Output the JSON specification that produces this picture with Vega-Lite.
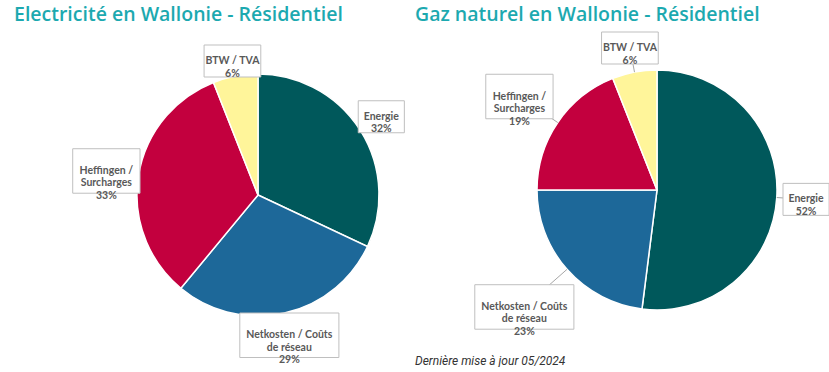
{
  "$schema": "https://vega.github.io/schema/vega-lite/v6.json",
  "padding": {"top": 4, "left": 0, "right": 0, "bottom": 0},
  "background": "white",
  "spacing": 0,
  "config": {"view": {"stroke": null}},
  "title": {"text": "Dernière mise à jour 05/2024", "orient": "bottom", "anchor": "start", "dx": 415, "font": "Roboto", "fontStyle": "italic", "fontWeight": "normal", "fontSize": 12, "color": "#333333", "offset": -10},
  "datasets": {
    "elec": [
      {"cat": "Energie", "value": 32, "order": 1},
      {"cat": "Netkosten / Coûts\nde réseau", "value": 29, "order": 2},
      {"cat": "Heffingen /\nSurcharges", "value": 33, "order": 3},
      {"cat": "BTW / TVA", "value": 6, "order": 4}
    ],
    "gaz": [
      {"cat": "Energie", "value": 52, "order": 1},
      {"cat": "Netkosten / Coûts\nde réseau", "value": 23, "order": 2},
      {"cat": "Heffingen /\nSurcharges", "value": 19, "order": 3},
      {"cat": "BTW / TVA", "value": 6, "order": 4}
    ]
  },
  "hconcat": [
    {
      "width": 414,
      "height": 310,
      "title": {"text": "Electricité en Wallonie - Résidentiel", "anchor": "start", "dx": 14, "font": "Open Sans", "fontSize": 19.5, "fontWeight": 600, "color": "#1CA9B0", "offset": 6},
      "data": {"name": "elec"},
      "transform": [
        {"window": [{"op": "sum", "field": "value", "as": "cum"}], "sort": [{"field": "order"}], "frame": [null, 0]},
        {"joinaggregate": [{"op": "sum", "field": "value", "as": "total"}]},
        {"calculate": "2*PI*(datum.cum - datum.value/2)/datum.total", "as": "ang"},
        {"calculate": "sin(datum.ang)", "as": "s"},
        {"calculate": "cos(datum.ang)", "as": "c"},
        {"calculate": "abs(datum.s)", "as": "sa"},
        {"calculate": "abs(datum.c)", "as": "ca"},
        {"calculate": "datum.cat + '\\n' + datum.value + '%'", "as": "txt"},
        {"calculate": "split(datum.txt, '\\n')", "as": "lines"},
        {"calculate": "(length(datum.lines)*12.5 + 7)/2", "as": "hh"},
        {"calculate": "(max(length(datum.lines[0]), length(datum.lines[1]), length(datum.lines) > 2 ? length(datum.lines[2]) : 0)*5.3 + 9)/2", "as": "hw"},
        {"calculate": "datum.hw*datum.sa + datum.hh*datum.ca", "as": "A"},
        {"calculate": "datum.A + sqrt(datum.A*datum.A - (datum.hw*datum.hw + datum.hh*datum.hh - 118*118))", "as": "t1"},
        {"calculate": "datum.t1*datum.sa < datum.hw ? (118 + datum.hh)/datum.ca : (datum.t1*datum.ca < datum.hh ? (118 + datum.hw)/datum.sa : datum.t1)", "as": "t"},
        {"calculate": "datum.t*datum.s", "as": "lx"},
        {"calculate": "-datum.t*datum.c", "as": "ly"},
        {"calculate": "datum.lx - datum.hw", "as": "bx1"},
        {"calculate": "datum.lx + datum.hw", "as": "bx2"},
        {"calculate": "datum.ly - datum.hh", "as": "by1"},
        {"calculate": "datum.ly + datum.hh", "as": "by2"},
        {"calculate": "121*datum.s", "as": "ex"},
        {"calculate": "-121*datum.c", "as": "ey"}
      ],
      "layer": [
        {
          "mark": {"type": "arc", "outerRadius": 121, "stroke": "white", "strokeWidth": 1.5},
          "encoding": {
            "x": {"datum": 0, "type": "quantitative", "scale": {"domain": [-258, 156], "nice": false, "zero": false}, "axis": null},
            "y": {"datum": 0, "type": "quantitative", "scale": {"domain": [-164, 146], "nice": false, "zero": false, "reverse": true}, "axis": null},
            "theta": {"field": "value", "type": "quantitative", "stack": true},
            "order": {"field": "order"},
            "color": {"field": "cat", "type": "nominal", "legend": null, "scale": {"domain": ["Energie", "Netkosten / Coûts\nde réseau", "Heffingen /\nSurcharges", "BTW / TVA"], "range": ["#00585B", "#1D6899", "#C3003E", "#FFF59A"]}}
          }
        },
        {
          "mark": {"type": "rule", "color": "#A6A6A6", "strokeWidth": 1},
          "encoding": {
            "x": {"field": "lx", "type": "quantitative"},
            "y": {"field": "ly", "type": "quantitative"},
            "x2": {"field": "ex"},
            "y2": {"field": "ey"}
          }
        },
        {
          "mark": {"type": "rect", "fill": "white", "stroke": "#BFBFBF", "strokeWidth": 1},
          "encoding": {
            "x": {"field": "bx1", "type": "quantitative"},
            "x2": {"field": "bx2"},
            "y": {"field": "by1", "type": "quantitative"},
            "y2": {"field": "by2"}
          }
        },
        {
          "mark": {"type": "text", "font": "Lato", "fontWeight": "bold", "fontSize": 10.5, "color": "#595959", "lineBreak": "\n", "lineHeight": 12.5, "align": "center", "baseline": "middle"},
          "encoding": {
            "x": {"field": "lx", "type": "quantitative"},
            "y": {"field": "ly", "type": "quantitative"},
            "text": {"field": "txt"}
          }
        }
      ]
    },
    {
      "width": 415,
      "height": 310,
      "title": {"text": "Gaz naturel en Wallonie - Résidentiel", "anchor": "start", "dx": 1, "font": "Open Sans", "fontSize": 19.5, "fontWeight": 600, "color": "#1CA9B0", "offset": 6},
      "data": {"name": "gaz"},
      "transform": [
        {"window": [{"op": "sum", "field": "value", "as": "cum"}], "sort": [{"field": "order"}], "frame": [null, 0]},
        {"joinaggregate": [{"op": "sum", "field": "value", "as": "total"}]},
        {"calculate": "2*PI*(datum.cum - datum.value/2)/datum.total", "as": "ang"},
        {"calculate": "sin(datum.ang)", "as": "s"},
        {"calculate": "cos(datum.ang)", "as": "c"},
        {"calculate": "abs(datum.s)", "as": "sa"},
        {"calculate": "abs(datum.c)", "as": "ca"},
        {"calculate": "datum.cat + '\\n' + datum.value + '%'", "as": "txt"},
        {"calculate": "split(datum.txt, '\\n')", "as": "lines"},
        {"calculate": "(length(datum.lines)*12.5 + 7)/2", "as": "hh"},
        {"calculate": "(max(length(datum.lines[0]), length(datum.lines[1]), length(datum.lines) > 2 ? length(datum.lines[2]) : 0)*5.3 + 9)/2", "as": "hw"},
        {"calculate": "datum.hw*datum.sa + datum.hh*datum.ca", "as": "A"},
        {"calculate": "datum.A + sqrt(datum.A*datum.A - (datum.hw*datum.hw + datum.hh*datum.hh - 126*126))", "as": "t1"},
        {"calculate": "datum.t1*datum.sa < datum.hw ? (126 + datum.hh)/datum.ca : (datum.t1*datum.ca < datum.hh ? (126 + datum.hw)/datum.sa : datum.t1)", "as": "t"},
        {"calculate": "datum.t*datum.s", "as": "lx"},
        {"calculate": "-datum.t*datum.c", "as": "ly"},
        {"calculate": "datum.lx - datum.hw", "as": "bx1"},
        {"calculate": "datum.lx + datum.hw", "as": "bx2"},
        {"calculate": "datum.ly - datum.hh", "as": "by1"},
        {"calculate": "datum.ly + datum.hh", "as": "by2"},
        {"calculate": "120*datum.s", "as": "ex"},
        {"calculate": "-120*datum.c", "as": "ey"}
      ],
      "layer": [
        {
          "mark": {"type": "arc", "outerRadius": 120, "stroke": "white", "strokeWidth": 1.5},
          "encoding": {
            "x": {"datum": 0, "type": "quantitative", "scale": {"domain": [-243, 172], "nice": false, "zero": false}, "axis": null},
            "y": {"datum": 0, "type": "quantitative", "scale": {"domain": [-159, 151], "nice": false, "zero": false, "reverse": true}, "axis": null},
            "theta": {"field": "value", "type": "quantitative", "stack": true},
            "order": {"field": "order"},
            "color": {"field": "cat", "type": "nominal", "legend": null, "scale": {"domain": ["Energie", "Netkosten / Coûts\nde réseau", "Heffingen /\nSurcharges", "BTW / TVA"], "range": ["#00585B", "#1D6899", "#C3003E", "#FFF59A"]}}
          }
        },
        {
          "mark": {"type": "rule", "color": "#A6A6A6", "strokeWidth": 1},
          "encoding": {
            "x": {"field": "lx", "type": "quantitative"},
            "y": {"field": "ly", "type": "quantitative"},
            "x2": {"field": "ex"},
            "y2": {"field": "ey"}
          }
        },
        {
          "mark": {"type": "rect", "fill": "white", "stroke": "#BFBFBF", "strokeWidth": 1},
          "encoding": {
            "x": {"field": "bx1", "type": "quantitative"},
            "x2": {"field": "bx2"},
            "y": {"field": "by1", "type": "quantitative"},
            "y2": {"field": "by2"}
          }
        },
        {
          "mark": {"type": "text", "font": "Lato", "fontWeight": "bold", "fontSize": 10.5, "color": "#595959", "lineBreak": "\n", "lineHeight": 12.5, "align": "center", "baseline": "middle"},
          "encoding": {
            "x": {"field": "lx", "type": "quantitative"},
            "y": {"field": "ly", "type": "quantitative"},
            "text": {"field": "txt"}
          }
        }
      ]
    }
  ]
}
